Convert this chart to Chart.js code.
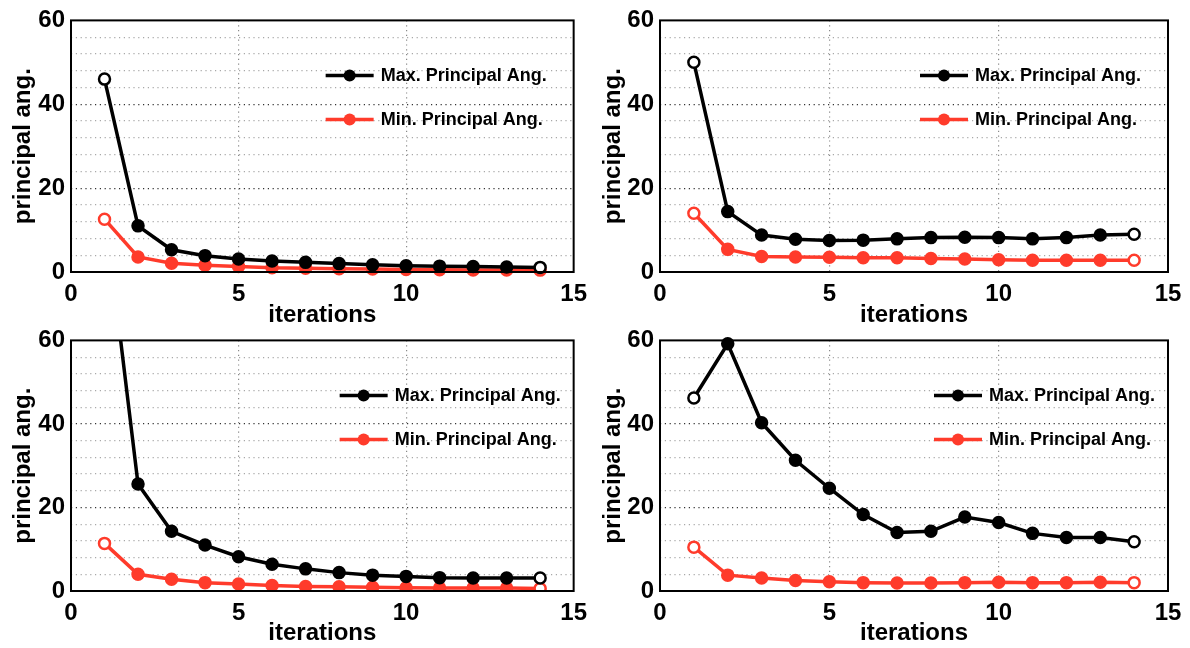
<!DOCTYPE html>
<html>
<head>
<meta charset="utf-8">
<script src="https://cdn.jsdelivr.net/npm/chart.js@4.4.1/dist/chart.umd.min.js"></script>
<style>
  body { margin: 0; background: #fff; }
  .box { position: absolute; }
</style>
</head>
<body>
<div class="box" style="left:0;top:0;width:595px;height:330px"><canvas id="c1"></canvas></div>
<div class="box" style="left:590px;top:0;width:600px;height:330px"><canvas id="c2"></canvas></div>
<div class="box" style="left:0;top:320px;width:595px;height:328px"><canvas id="c3"></canvas></div>
<div class="box" style="left:590px;top:320px;width:600px;height:328px"><canvas id="c4"></canvas></div>
<script>
// iterations on x axis
var iters = [1, 2, 3, 4, 5, 6, 7, 8, 9, 10, 11, 12, 13, 14];
var seriesNames = ['Max. Principal Ang.', 'Min. Principal Ang.'];
var xTicks = [0, 5, 10, 15];
var yTicks = [0, 20, 40, 60];

// values
var tlMax = [46, 11.0, 5.3, 3.9, 3.1, 2.6, 2.3, 2.0, 1.7, 1.5, 1.4, 1.3, 1.2, 1.1];
var tlMin = [12.6, 3.6, 2.1, 1.6, 1.3, 1.0, 0.9, 0.8, 0.7, 0.6, 0.55, 0.5, 0.5, 0.45];
var trMax = [50.0, 14.4, 8.8, 7.8, 7.5, 7.6, 7.9, 8.2, 8.3, 8.2, 7.9, 8.2, 8.8, 9.0];
var trMin = [14.0, 5.4, 3.7, 3.6, 3.5, 3.4, 3.4, 3.2, 3.1, 2.9, 2.8, 2.8, 2.8, 2.8];
var blMax = [92, 25.6, 14.3, 11.0, 8.2, 6.4, 5.3, 4.4, 3.8, 3.5, 3.2, 3.1, 3.1, 3.1];
var blMin = [11.4, 4.0, 2.8, 2.0, 1.7, 1.3, 1.1, 1.0, 0.9, 0.8, 0.7, 0.7, 0.7, 0.6];
var brMax = [46.2, 59.2, 40.3, 31.3, 24.6, 18.3, 14.0, 14.3, 17.7, 16.4, 13.8, 12.8, 12.8, 11.8];
var brMin = [10.5, 3.8, 3.1, 2.5, 2.2, 2.0, 1.9, 1.9, 2.0, 2.1, 2.0, 2.0, 2.1, 2.0];

var FONT = "'Liberation Sans', Arial, Helvetica, sans-serif";
var BLACK = '#000000';
var RED = '#ff3b2b';

function toPoints(vals) {
    var pts = [];
    for (var i = 0; i < vals.length; i++) pts.push({ x: iters[i], y: vals[i] });
    return pts;
}

function pointFill(vals, color) {
    var arr = [];
    for (var i = 0; i < vals.length; i++) {
        arr.push(i === 0 || i === vals.length - 1 ? '#ffffff' : color);
    }
    return arr;
}

function makeSet(label, vals, color, clip) {
    return {
        label: label,
        data: toPoints(vals),
        borderColor: color,
        backgroundColor: color,
        borderWidth: 3.5,
        pointRadius: 5.5,
        pointBorderWidth: 2.5,
        pointBorderColor: color,
        pointBackgroundColor: pointFill(vals, color),
        tension: 0,
        clip: clip
    };
}

// draws the frame and the legend inside the plot area
var boxLegend = {
    id: 'boxLegend',
    afterDraw: function (chart, args, opts) {
        var ctx = chart.ctx;
        var a = chart.chartArea;
        ctx.save();
        ctx.strokeStyle = '#000';
        ctx.lineWidth = 2;
        ctx.strokeRect(a.left, a.top, a.right - a.left, a.bottom - a.top);

        var x0 = a.right - opts.fromRight;
        var rows = [a.top + 55, a.top + 99];
        chart.data.datasets.forEach(function (ds, i) {
            var y = rows[i];
            ctx.strokeStyle = ds.borderColor;
            ctx.lineWidth = 3.5;
            ctx.beginPath();
            ctx.moveTo(x0, y);
            ctx.lineTo(x0 + 48, y);
            ctx.stroke();
            ctx.fillStyle = ds.borderColor;
            ctx.beginPath();
            ctx.arc(x0 + 24, y, 6, 0, Math.PI * 2);
            ctx.fill();
            ctx.fillStyle = '#000';
            ctx.font = 'bold 18px ' + FONT;
            ctx.textBaseline = 'middle';
            ctx.fillText(ds.label, x0 + 55, y + 1);
        });
        ctx.restore();
    }
};

function makeChart(id, maxVals, minVals, layout) {
    var ctx = document.getElementById(id).getContext('2d');
    return new Chart(ctx, {
        type: 'line',
        data: {
            datasets: [
                makeSet(seriesNames[0], maxVals, BLACK, layout.clip),
                makeSet(seriesNames[1], minVals, RED, layout.clip)
            ]
        },
        options: {
            responsive: true,
            maintainAspectRatio: false,
            animation: false,
            events: [],
            layout: { padding: { top: layout.top, right: layout.right, left: 0, bottom: 0 } },
            plugins: {
                legend: { display: false },
                tooltip: { enabled: false },
                boxLegend: { fromRight: layout.legendRight }
            },
            scales: {
                x: {
                    type: 'linear',
                    position: 'bottom',
                    min: 0,
                    max: 15,
                    afterBuildTicks: function (axis) {
                        axis.ticks = xTicks.map(function (v) { return { value: v }; });
                    },
                    afterFit: function (axis) { axis.height = layout.xh; },
                    grid: {
                        color: function (c) { return (c.tick && (c.tick.value === 0 || c.tick.value === 15)) ? 'rgba(0,0,0,0)' : '#8a8a8a'; },
                        lineWidth: 1.2,
                        drawTicks: false
                    },
                    border: { display: false, dash: [1.2, 3.6] },
                    ticks: {
                        color: '#000',
                        padding: 8,
                        maxRotation: 0,
                        autoSkip: false,
                        font: { family: FONT, size: 24, weight: 'bold' }
                    },
                    title: {
                        display: true,
                        text: 'iterations',
                        color: '#000',
                        padding: { top: -4, bottom: 0 },
                        font: { family: FONT, size: 24, weight: 'bold' }
                    }
                },
                y: {
                    type: 'linear',
                    min: 0,
                    max: 60,
                    afterBuildTicks: function (axis) {
                        var t = [];
                        for (var v = 0; v <= 60; v += 4) t.push({ value: v });
                        axis.ticks = t;
                    },
                    afterFit: function (axis) { axis.width = layout.yw; },
                    ticks: {
                        color: '#000',
                        padding: 6,
                        autoSkip: false,
                        font: { family: FONT, size: 24, weight: 'bold' },
                        callback: function (v) { return yTicks.indexOf(v) >= 0 ? String(v) : ''; }
                    },
                    grid: {
                        color: function (c) {
                            if (!c.tick) return '#bbbbbb';
                            var v = c.tick.value;
                            if (v === 0 || v === 60) return 'rgba(0,0,0,0)';
                            return yTicks.indexOf(v) >= 0 ? '#333333' : '#a8a8a8';
                        },
                        lineWidth: 1.2,
                        drawTicks: false
                    },
                    border: { display: false, dash: [1.2, 3.6] },
                    title: {
                        display: true,
                        text: 'principal ang.',
                        color: '#000',
                        padding: { top: 9, bottom: 0 },
                        font: { family: FONT, size: 24, weight: 'bold' }
                    }
                }
            }
        },
        plugins: [boxLegend]
    });
}

makeChart('c1', tlMax, tlMin, { top: 19, right: 17, xh: 58, yw: 71, legendRight: 248, clip: false });
makeChart('c2', trMax, trMin, { top: 19, right: 22, xh: 58, yw: 70, legendRight: 248, clip: false });
makeChart('c3', blMax, blMin, { top: 17, right: 17, xh: 57, yw: 71, legendRight: 234, clip: 0 });
makeChart('c4', brMax, brMin, { top: 17, right: 22, xh: 57, yw: 70, legendRight: 234, clip: false });
</script>
</body>
</html>
